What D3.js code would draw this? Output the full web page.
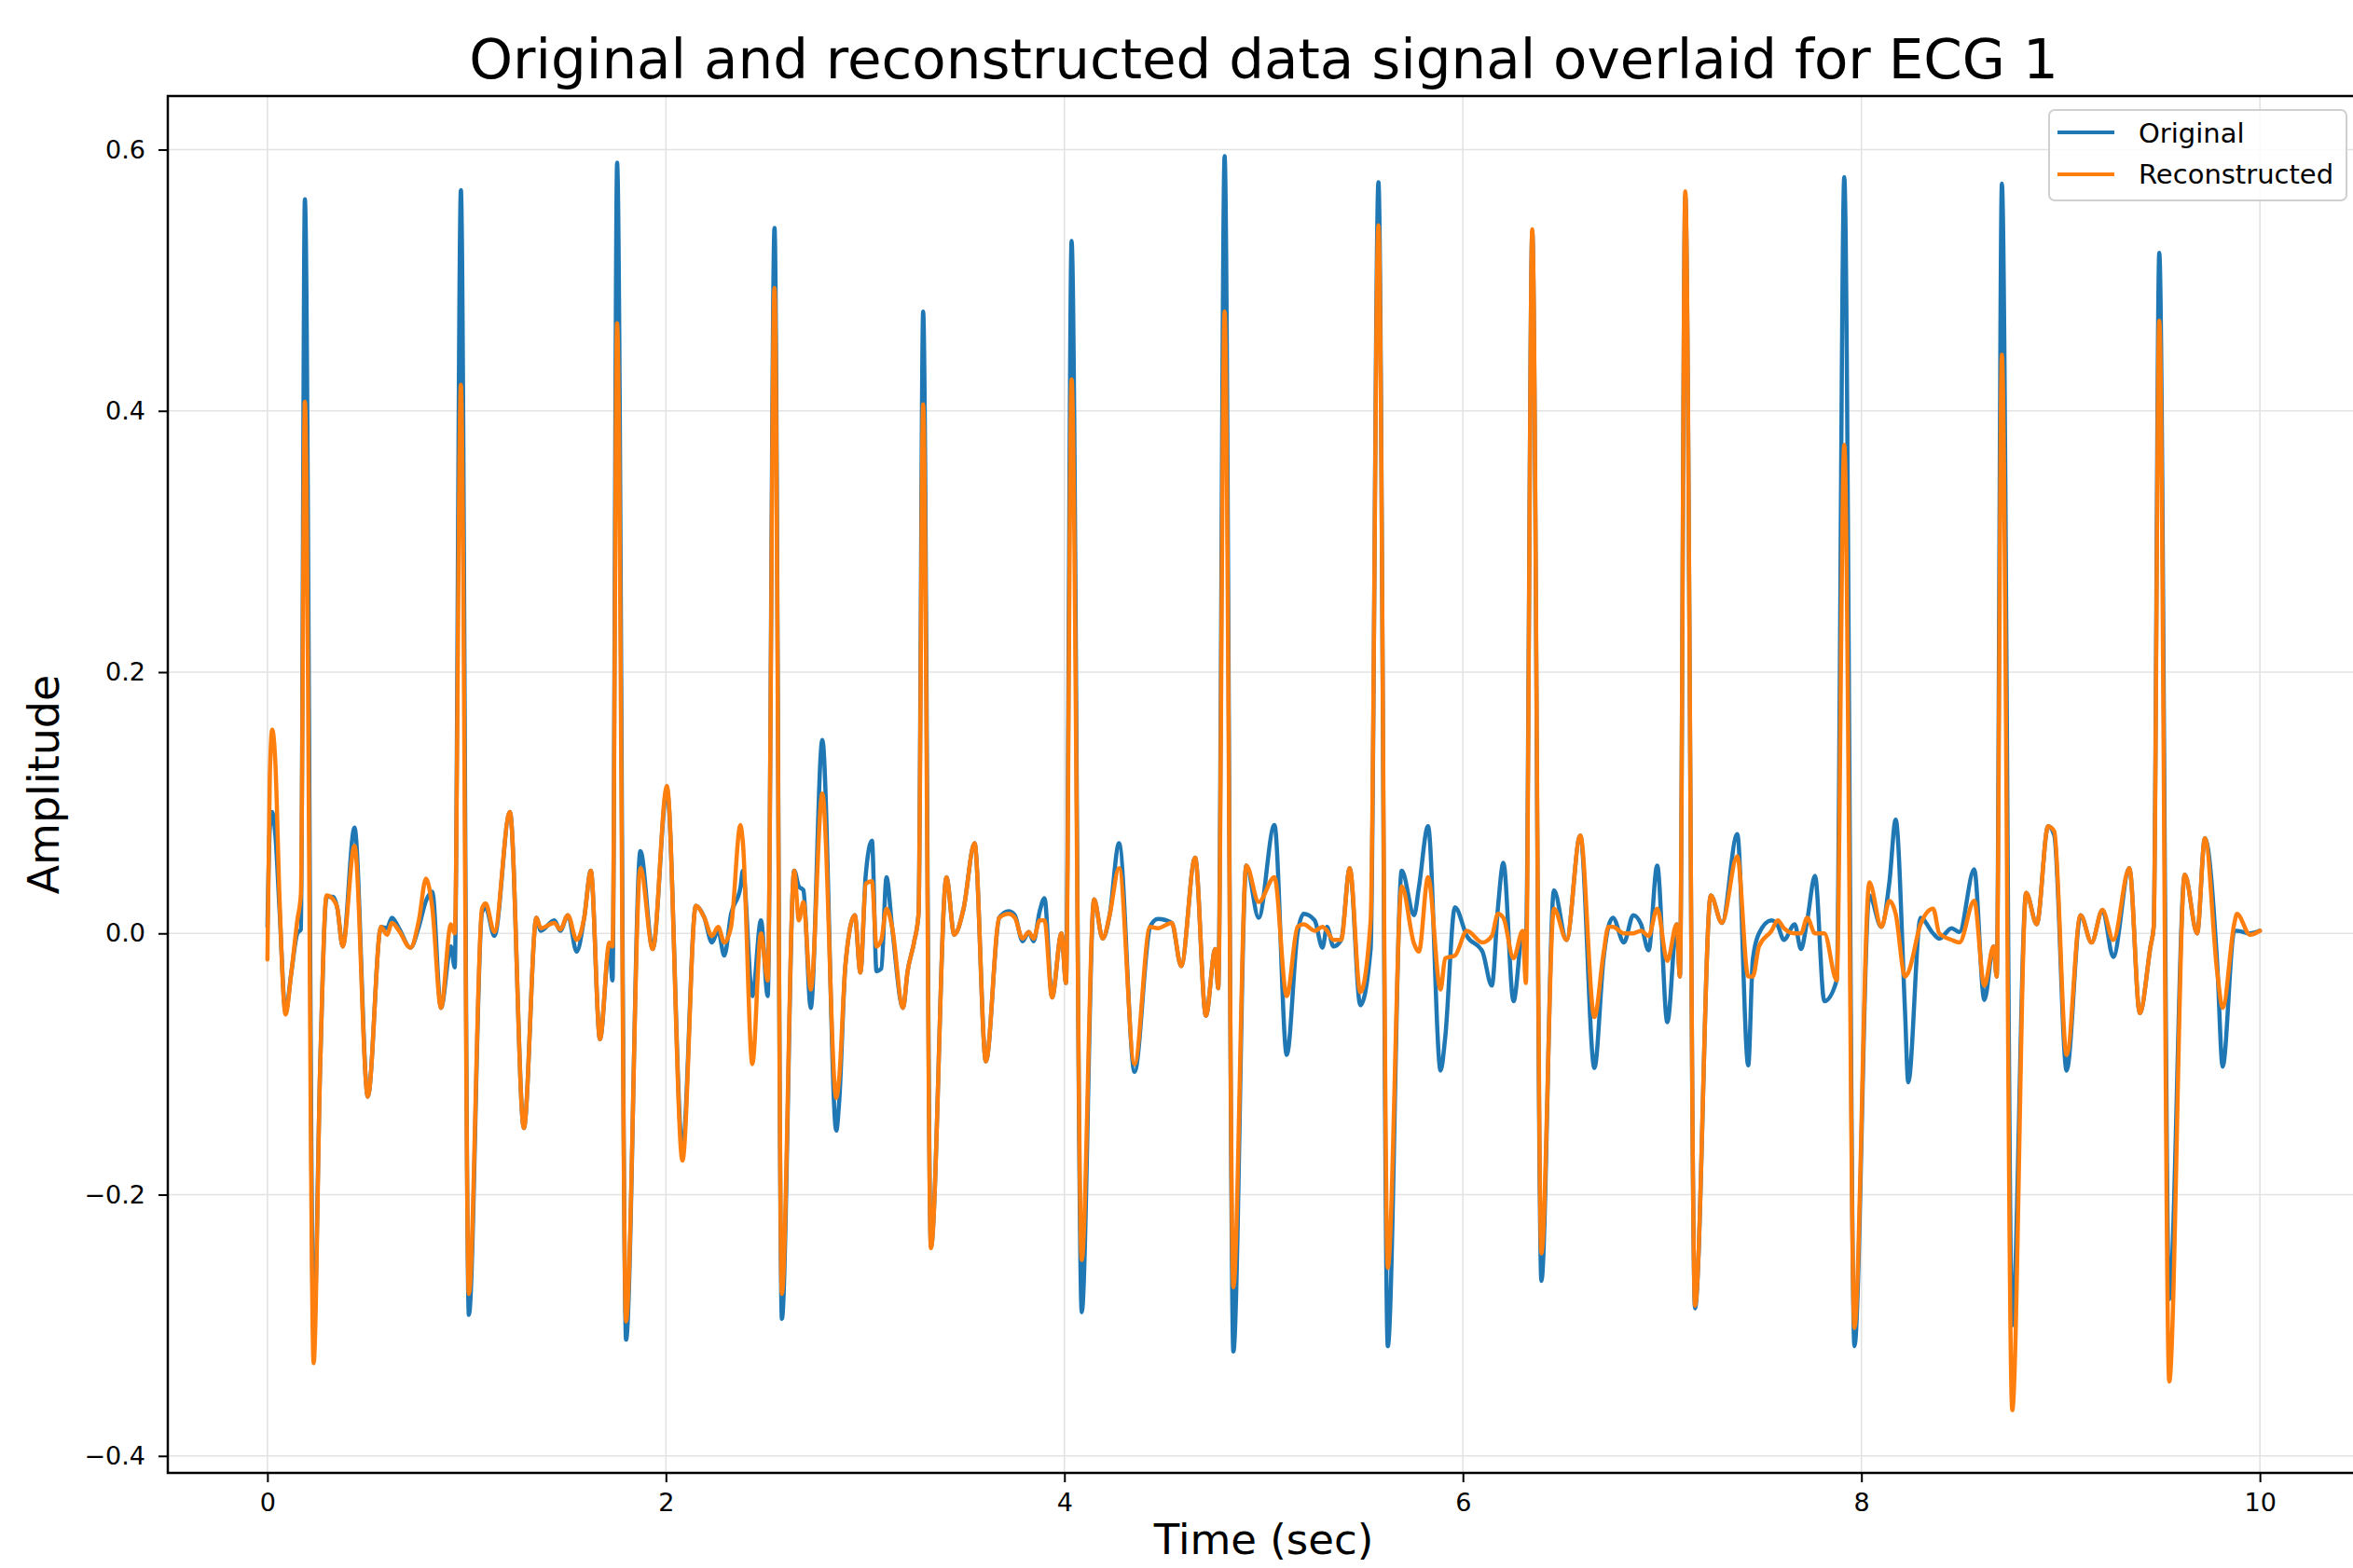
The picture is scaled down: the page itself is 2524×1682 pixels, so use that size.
<!DOCTYPE html>
<html><head><meta charset="utf-8">
<script src="https://cdn.jsdelivr.net/npm/d3@7"></script>
<style>
body{margin:0;background:#fff;}
svg{display:block;}
text{font-family:"DejaVu Sans", sans-serif;}
</style>
</head><body>
<svg id="chart" width="2524" height="1682"></svg>
<script>
// ---- data ----
const time = [
0.000,0.012,0.024,0.040,0.060,0.091,0.120,0.150,0.168,0.188,0.232,0.265,0.297,0.330,0.350,0.378,0.437,0.504,0.570,0.600,
0.625,0.660,0.718,0.760,0.796,0.827,0.871,0.921,0.940,0.971,1.011,1.077,1.095,1.139,1.217,1.287,1.350,1.372,1.440,1.470,
1.508,1.552,1.590,1.623,1.669,1.716,1.732,1.755,1.800,1.872,1.934,2.005,2.083,2.150,2.193,2.231,2.262,2.293,2.327,2.374,
2.386,2.434,2.477,2.511,2.545,2.582,2.644,2.667,2.690,2.727,2.785,2.855,2.870,2.901,2.948,2.976,3.003,3.034,3.057,3.081,
3.107,3.135,3.190,3.213,3.245,3.268,3.291,3.330,3.408,3.447,3.494,3.549,3.606,3.673,3.720,3.751,3.790,3.821,3.845,3.876,
3.900,3.938,3.985,4.008,4.036,4.087,4.149,4.192,4.227,4.274,4.352,4.430,4.469,4.539,4.586,4.656,4.710,4.757,4.772,4.804,
4.848,4.913,4.975,5.054,5.116,5.170,5.201,5.256,5.295,5.318,5.350,5.389,5.432,5.485,5.537,5.576,5.623,5.693,5.755,5.779,
5.825,5.888,5.911,5.960,6.020,6.098,6.145,6.176,6.203,6.254,6.300,6.316,6.348,6.394,6.457,6.520,6.589,6.660,6.706,6.730,
6.753,6.808,6.855,6.894,6.932,6.975,7.026,7.073,7.089,7.116,7.165,7.244,7.300,7.377,7.432,7.455,7.486,7.549,7.580,7.611,
7.665,7.697,7.728,7.767,7.814,7.876,7.914,7.965,8.040,8.100,8.141,8.172,8.219,8.235,8.297,8.360,8.391,8.453,8.492,8.566,
8.617,8.663,8.679,8.705,8.757,8.827,8.880,8.937,8.968,9.030,9.100,9.155,9.210,9.264,9.345,9.397,9.451,9.467,9.495,9.545,
9.623,9.685,9.724,9.786,9.813,9.872,9.885,9.950,10.000
];
const original = [
0.005,0.080,0.093,0.075,0.020,-0.060,-0.030,0.000,0.003,0.562,-0.310,-0.100,0.028,0.028,0.020,-0.010,0.081,-0.125,0.005,0.004,
0.012,0.004,-0.011,0.005,0.025,0.032,-0.057,-0.010,-0.026,0.569,-0.292,0.016,0.020,-0.002,0.093,-0.149,0.012,0.002,0.010,0.002,
0.014,-0.014,0.012,0.048,-0.081,-0.010,-0.036,0.590,-0.311,0.063,-0.012,0.110,-0.165,0.021,0.012,-0.007,0.002,-0.017,0.015,0.035,
0.048,-0.048,0.010,-0.048,0.540,-0.295,0.048,0.036,0.033,-0.057,0.148,-0.151,-0.128,-0.024,0.014,-0.030,0.045,0.071,-0.029,-0.027,
0.043,0.005,-0.057,-0.029,-0.007,0.015,0.476,-0.240,0.043,-0.001,0.019,0.069,-0.098,0.012,0.017,0.014,-0.006,0.001,-0.006,0.017,
0.027,-0.049,0.000,-0.038,0.530,-0.290,0.026,-0.004,0.014,0.069,-0.106,0.005,0.011,0.008,-0.025,0.058,-0.063,-0.012,-0.042,0.595,
-0.320,0.052,0.012,0.083,-0.093,0.000,0.015,0.010,-0.011,0.005,-0.010,-0.005,0.050,-0.055,-0.012,0.575,-0.316,0.048,0.014,0.035,
0.082,-0.105,-0.080,0.020,-0.002,-0.014,-0.040,0.020,0.054,-0.052,0.000,-0.010,0.537,-0.266,0.033,-0.005,0.075,-0.103,-0.019,0.005,
0.012,-0.007,0.014,0.007,-0.013,0.052,-0.068,0.007,-0.033,0.565,-0.287,0.029,0.008,0.076,-0.101,-0.020,0.000,0.010,0.006,-0.005,
0.007,-0.012,0.010,0.044,-0.052,-0.036,0.579,-0.316,0.029,0.005,0.040,0.087,-0.060,-0.114,0.012,0.000,-0.004,0.004,0.001,0.049,
-0.051,-0.010,-0.033,0.574,-0.300,0.031,0.007,0.082,0.075,-0.105,0.014,-0.007,0.018,-0.018,0.050,-0.061,-0.010,0.005,0.521,-0.280,
0.045,0.000,0.073,-0.024,-0.102,0.002,0.002,0.000,0.002
];
const reconstructed = [
-0.020,0.120,0.156,0.130,0.030,-0.062,-0.030,0.010,0.030,0.407,-0.329,-0.100,0.029,0.026,0.020,-0.010,0.067,-0.125,0.005,-0.001,
0.008,0.002,-0.011,0.010,0.042,0.020,-0.057,0.007,0.000,0.420,-0.276,0.019,0.023,0.001,0.093,-0.149,0.012,0.004,0.008,0.003,
0.014,-0.005,0.012,0.048,-0.081,-0.007,-0.010,0.467,-0.297,0.050,-0.012,0.113,-0.174,0.021,0.012,-0.002,0.005,-0.007,0.005,0.083,
0.070,-0.100,0.000,-0.036,0.494,-0.276,0.048,0.010,0.024,-0.043,0.107,-0.126,-0.110,-0.024,0.014,-0.030,0.038,0.040,-0.010,-0.005,
0.019,0.005,-0.057,-0.029,-0.007,0.015,0.405,-0.241,0.043,-0.001,0.019,0.069,-0.098,0.012,0.015,0.012,-0.004,0.001,-0.004,0.010,
0.010,-0.049,0.000,-0.038,0.424,-0.250,0.026,-0.004,0.014,0.050,-0.100,0.005,0.004,0.008,-0.025,0.058,-0.063,-0.012,-0.042,0.476,
-0.271,0.052,0.024,0.043,-0.048,0.005,0.007,0.002,0.005,0.002,-0.005,-0.005,0.050,-0.045,0.010,0.542,-0.256,0.036,-0.008,-0.014,
0.043,-0.043,-0.019,-0.017,0.002,-0.007,-0.002,0.015,0.012,-0.019,0.002,-0.038,0.539,-0.245,0.019,-0.005,0.075,-0.064,-0.015,0.005,
0.005,0.000,0.000,0.002,-0.002,0.019,-0.021,0.007,-0.033,0.568,-0.285,0.029,0.008,0.059,-0.033,-0.033,-0.010,0.002,0.010,0.004,
0.000,0.000,0.012,0.000,0.000,-0.036,0.374,-0.302,0.039,0.005,0.025,0.015,-0.033,-0.030,0.007,0.019,0.000,-0.005,-0.007,0.025,
-0.040,-0.010,-0.033,0.443,-0.365,0.031,0.007,0.082,0.078,-0.093,0.014,-0.007,0.018,-0.005,0.050,-0.061,-0.010,0.005,0.469,-0.343,
0.045,0.000,0.073,-0.030,-0.057,0.008,0.015,-0.001,0.002
];
const seriesNames = ["Original", "Reconstructed"];
const seriesColors = ["#1f77b4", "#ff7f0e"];
const xTicks = [0, 2, 4, 6, 8, 10];
const yTicks = [-0.4, -0.2, 0.0, 0.2, 0.4, 0.6];
const titleText = "Original and reconstructed data signal overlaid for ECG 1";
const xLabel = "Time (sec)";
const yLabel = "Amplitude";

// ---- layout ----
const L = 180, R = 2531, T = 103, B = 1580;
const svg = d3.select("#chart");
svg.append("rect").attr("width", 2524).attr("height", 1682).attr("fill", "#fff");

const x = d3.scaleLinear().domain([-0.5, 10.5]).range([L, R]);
const y = d3.scaleLinear().domain([-0.413, 0.641]).range([B, T]);

// grid
const grid = svg.append("g");
grid.selectAll("line.vx").data(xTicks).join("line")
  .attr("x1", d => x(d)).attr("x2", d => x(d)).attr("y1", T).attr("y2", B)
  .attr("stroke", "#e3e3e3").attr("stroke-width", 1.6);
grid.selectAll("line.hy").data(yTicks).join("line")
  .attr("y1", d => y(d)).attr("y2", d => y(d)).attr("x1", L).attr("x2", R)
  .attr("stroke", "#e3e3e3").attr("stroke-width", 1.6);

// lines
const seriesData = [original, reconstructed].map(vals => vals.map((v, i) => [time[i], v]));
const line = d3.line().x(d => x(d[0])).y(d => y(d[1])).curve(d3.curveMonotoneX);
svg.append("g").selectAll("path").data(seriesData).join("path")
  .attr("d", line)
  .attr("fill", "none")
  .attr("stroke", (d, i) => seriesColors[i])
  .attr("stroke-width", 4.5)
  .attr("stroke-linejoin", "round")
  .attr("stroke-linecap", "round");

// axes
const fmtY = d3.format(".1f");
const gx = svg.append("g").attr("transform", `translate(0,${B})`)
  .call(d3.axisBottom(x).tickValues(xTicks).tickSize(10).tickPadding(12).tickFormat(d3.format("d")));
const gy = svg.append("g").attr("transform", `translate(${L},0)`)
  .call(d3.axisLeft(y).tickValues(yTicks).tickSize(10).tickPadding(14).tickFormat(fmtY));
[gx, gy].forEach(g => {
  g.select(".domain").remove();
  g.selectAll(".tick line").attr("stroke", "#000").attr("stroke-width", 2);
  g.selectAll(".tick text").attr("fill", "#000").attr("font-size", 27)
    .attr("font-family", "DejaVu Sans");
});

// spines
const sp = svg.append("g").attr("stroke", "#000").attr("stroke-width", 2.5).attr("fill", "none");
sp.append("rect").attr("x", L).attr("y", T).attr("width", R - L).attr("height", B - T);

// title & labels
svg.append("text").attr("x", (L + R) / 2).attr("y", 84).attr("text-anchor", "middle")
  .attr("font-size", 59.5).attr("fill", "#000").text(titleText);
svg.append("text").attr("x", (L + R) / 2).attr("y", 1667).attr("text-anchor", "middle")
  .attr("font-size", 45).attr("fill", "#000").text(xLabel);
svg.append("text").attr("transform", `translate(63,${(T + B) / 2}) rotate(-90)`)
  .attr("text-anchor", "middle").attr("font-size", 46).attr("fill", "#000").text(yLabel);

// legend
const lg = svg.append("g");
lg.append("rect").attr("x", 2198).attr("y", 118).attr("width", 319).attr("height", 97)
  .attr("rx", 6).attr("fill", "#fff").attr("fill-opacity", 0.85)
  .attr("stroke", "#d0d0d0").attr("stroke-width", 2);
seriesNames.forEach((name, i) => {
  const yy = 142 + i * 45;
  lg.append("line").attr("x1", 2207).attr("x2", 2268).attr("y1", yy).attr("y2", yy)
    .attr("stroke", seriesColors[i]).attr("stroke-width", 4);
  lg.append("text").attr("x", 2294).attr("y", 153 + i * 44).attr("font-size", 29)
    .attr("fill", "#000").text(name);
});
</script>
</body></html>
